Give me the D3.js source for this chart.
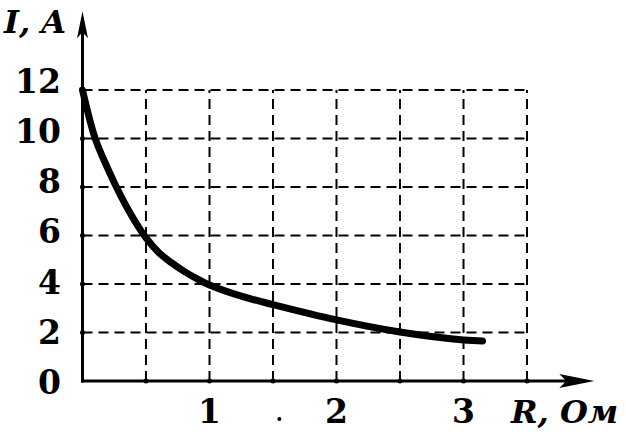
<!DOCTYPE html>
<html>
<head>
<meta charset="utf-8">
<script src="https://cdn.jsdelivr.net/npm/d3@7"></script>
<style>
  body { margin: 0; background: #fff; }
  svg text { font-family: "DejaVu Serif", serif; font-weight: bold; fill: #000; }
</style>
</head>
<body>
<div id="chart"></div>
<script>
// values
const resistance = [0, 0.1, 0.2, 0.3, 0.4, 0.5, 0.6, 0.7, 0.8, 0.9, 1.0, 1.25, 1.5, 2.0, 2.5, 3.0, 3.15];
const current = [12, 10, 8.75, 7.65, 6.7, 5.9, 5.3, 4.88, 4.52, 4.22, 3.96, 3.5, 3.15, 2.52, 2.02, 1.69, 1.65];
const xTicks = [1, 2, 3];
const yTicks = [0, 2, 4, 6, 8, 10, 12];
const xGrid = [0.5, 1, 1.5, 2, 2.5, 3, 3.5];
const yGrid = [2, 4, 6, 8, 10, 12];

const width = 626, height = 444;

const svg = d3.select("#chart")
    .append("svg")
    .attr("width", width)
    .attr("height", height);

svg.append("rect").attr("width", width).attr("height", height).attr("fill", "#fff");

const x = d3.scaleLinear().domain([0, 3.5]).range([82.5, 527]);
const y = d3.scaleLinear().domain([0, 12]).range([381, 90]);
// labels of the y axis sit a little higher than their lines
const yLabel = d3.scaleLinear().domain([0, 12]).range([382, 81]);

// dashed grid
svg.append("g")
    .selectAll("line")
    .data(yGrid)
    .join("line")
    .attr("x1", x(0)).attr("x2", x(3.5))
    .attr("y1", d => y(d)).attr("y2", d => y(d))
    .attr("stroke", "#000")
    .attr("stroke-width", 2)
    .attr("stroke-dasharray", "10,6");

svg.append("g")
    .selectAll("line")
    .data(xGrid)
    .join("line")
    .attr("x1", d => x(d)).attr("x2", d => x(d))
    .attr("y1", y(0)).attr("y2", y(12))
    .attr("stroke", "#000")
    .attr("stroke-width", 2)
    .attr("stroke-dasharray", "10,6");

// axes with arrows
const yTop = y(15.25), xEnd = x(4.03);
svg.append("line")
    .attr("x1", x(0)).attr("x2", x(0))
    .attr("y1", y(0) + 1.5).attr("y2", yTop + 10)
    .attr("stroke", "#000").attr("stroke-width", 3);
svg.append("line")
    .attr("x1", x(0) - 1.5).attr("x2", xEnd - 10)
    .attr("y1", y(0)).attr("y2", y(0))
    .attr("stroke", "#000").attr("stroke-width", 3);

svg.append("path")
    .attr("d", `M${x(0)},${yTop} L${x(0) + 5.5},${yTop + 27} L${x(0)},${yTop + 21} L${x(0) - 5.5},${yTop + 27} Z`)
    .attr("fill", "#000");
svg.append("path")
    .attr("d", `M${xEnd},${y(0)} L${xEnd - 35},${y(0) - 7} L${xEnd - 28},${y(0)} L${xEnd - 35},${y(0) + 7} Z`)
    .attr("fill", "#000");

// small tick dots where grid meets axes
svg.append("g")
    .selectAll("circle")
    .data(xGrid)
    .join("circle")
    .attr("cx", d => x(d)).attr("cy", y(0)).attr("r", 2.5).attr("fill", "#000");
svg.append("g")
    .selectAll("circle")
    .data(yGrid)
    .join("circle")
    .attr("cx", x(0)).attr("cy", d => y(d)).attr("r", 2.5).attr("fill", "#000");

// the curve
const line = d3.line()
    .x((d, i) => x(resistance[i]))
    .y(d => y(d))
    .curve(d3.curveCatmullRom.alpha(0.5));

svg.append("path")
    .datum(current)
    .attr("fill", "none")
    .attr("stroke", "#000")
    .attr("stroke-width", 7)
    .attr("stroke-linecap", "round")
    .attr("stroke-linejoin", "round")
    .attr("d", line);

// tick labels
svg.append("g")
    .selectAll("text")
    .data(yTicks)
    .join("text")
    .attr("x", 61)
    .attr("y", d => yLabel(d))
    .attr("dy", "0.36em")
    .attr("text-anchor", "end")
    .attr("font-size", 33)
    .text(d => d);

svg.append("g")
    .selectAll("text")
    .data(xTicks)
    .join("text")
    .attr("x", d => x(d))
    .attr("y", 423)
    .attr("text-anchor", "middle")
    .attr("font-size", 33)
    .text(d => d);

// stray print dot between 1 and 2
svg.append("circle")
    .attr("cx", x(1.55)).attr("cy", 419).attr("r", 2).attr("fill", "#000");

// axis titles
svg.append("text")
    .attr("x", 4).attr("y", 33)
    .attr("font-size", 32)
    .attr("font-style", "italic")
    .text("I, A");

svg.append("text")
    .attr("x", 511).attr("y", 423)
    .attr("font-size", 32)
    .attr("font-style", "italic")
    .text("R, Ом");
</script>
</body>
</html>
